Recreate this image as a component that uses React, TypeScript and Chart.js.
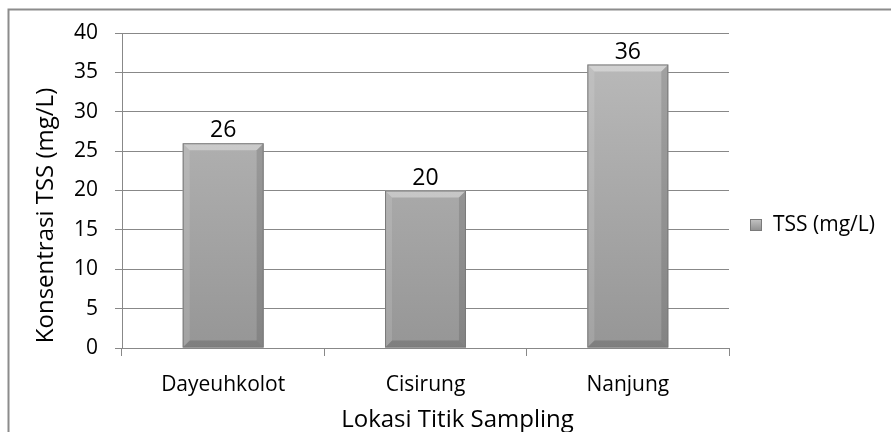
import React, { useEffect, useRef } from "react";
import { Chart, registerables } from "chart.js";

Chart.register(...registerables);

const categories = ["Dayeuhkolot", "Cisirung", "Nanjung"];
const tssValues = [26, 20, 36];
const seriesLabel = "TSS (mg/L)";
const yTitle = "Konsentrasi TSS (mg/L)";
const xTitle = "Lokasi Titik Sampling";
const yMin = 0;
const yMax = 40;
const yStep = 5;

const FONT = "'Open Sans', sans-serif";

const framePlugin = {
  id: "frame",
  beforeDraw(chart: any) {
    const ctx = chart.ctx;
    ctx.save();
    ctx.fillStyle = "#ffffff";
    ctx.fillRect(0, 0, chart.width, chart.height);
    ctx.strokeStyle = "#8c8c8c";
    ctx.lineWidth = 2;
    ctx.beginPath();
    ctx.moveTo(8.5, chart.height);
    ctx.lineTo(8.5, 9.5);
    ctx.lineTo(chart.width, 9.5);
    ctx.stroke();
    ctx.restore();
  },
};

const barDecorPlugin = {
  id: "barDecor",
  afterDatasetsDraw(chart: any) {
    const ctx = chart.ctx;
    const meta = chart.getDatasetMeta(0);
    const data = chart.data.datasets[0].data as number[];
    ctx.save();
    meta.data.forEach((bar: any, i: number) => {
      const w = bar.width;
      const left = bar.x - w / 2;
      const right = bar.x + w / 2;
      const top = bar.y;
      const bottom = bar.base;
      const b = 7;
      ctx.fillStyle = "rgba(255,255,255,0.35)";
      ctx.beginPath();
      ctx.moveTo(left, top);
      ctx.lineTo(right, top);
      ctx.lineTo(right - b, top + b);
      ctx.lineTo(left + b, top + b);
      ctx.closePath();
      ctx.fill();
      ctx.fillStyle = "rgba(255,255,255,0.12)";
      ctx.beginPath();
      ctx.moveTo(left, top);
      ctx.lineTo(left + b, top + b);
      ctx.lineTo(left + b, bottom - b);
      ctx.lineTo(left, bottom);
      ctx.closePath();
      ctx.fill();
      ctx.fillStyle = "rgba(0,0,0,0.12)";
      ctx.beginPath();
      ctx.moveTo(right, top);
      ctx.lineTo(right - b, top + b);
      ctx.lineTo(right - b, bottom - b);
      ctx.lineTo(right, bottom);
      ctx.closePath();
      ctx.fill();
      ctx.fillStyle = "rgba(0,0,0,0.15)";
      ctx.beginPath();
      ctx.moveTo(left, bottom);
      ctx.lineTo(right, bottom);
      ctx.lineTo(right - b, bottom - b);
      ctx.lineTo(left + b, bottom - b);
      ctx.closePath();
      ctx.fill();
      ctx.strokeStyle = "#7a7a7a";
      ctx.lineWidth = 1;
      ctx.strokeRect(left + 0.5, top + 0.5, w - 1, bottom - top - 1);
      ctx.fillStyle = "#000000";
      ctx.font = `23px ${FONT}`;
      ctx.textAlign = "center";
      ctx.textBaseline = "alphabetic";
      ctx.fillText(String(data[i]), bar.x, top - 6);
    });
    ctx.restore();
  },
  afterDraw(chart: any) {
    const ctx = chart.ctx;
    const area = chart.chartArea;
    ctx.save();
    // legend
    const cy = 225;
    const sx = area.right + 21;
    const g = ctx.createLinearGradient(0, cy - 6, 0, cy + 6);
    g.addColorStop(0, "#c4c4c4");
    g.addColorStop(1, "#8e8e8e");
    ctx.fillStyle = g;
    ctx.fillRect(sx, cy - 6, 12, 12);
    ctx.strokeStyle = "#7a7a7a";
    ctx.lineWidth = 1;
    ctx.strokeRect(sx + 0.5, cy - 5.5, 11, 11);
    ctx.fillStyle = "#000000";
    ctx.font = `21px ${FONT}`;
    ctx.textAlign = "left";
    ctx.textBaseline = "middle";
    ctx.fillText(seriesLabel, sx + 23, cy);
    // x title
    ctx.font = `24px ${FONT}`;
    ctx.textAlign = "center";
    ctx.textBaseline = "alphabetic";
    ctx.fillText(xTitle, (area.left + area.right) / 2 + 32, 427);
    // y title
    ctx.translate(46, (area.top + area.bottom) / 2 + 25);
    ctx.rotate(-Math.PI / 2);
    ctx.textAlign = "center";
    ctx.textBaseline = "middle";
    ctx.fillText(yTitle, 0, 0);
    ctx.restore();
  },
};

export default function App() {
  const ref = useRef<HTMLCanvasElement>(null);
  useEffect(() => {
    document.body.style.margin = "0";
    const canvas = ref.current!;
    const chart = new Chart(canvas, {
      type: "bar",
      data: {
        labels: categories,
        datasets: [
          {
            label: seriesLabel,
            data: tssValues,
            backgroundColor: (c: any) => {
              const area = c.chart.chartArea;
              if (!area) return "#a8a8a8";
              const g = c.chart.ctx.createLinearGradient(0, area.top, 0, area.bottom);
              g.addColorStop(0, "#bcbcbc");
              g.addColorStop(1, "#969696");
              return g;
            },
            borderWidth: 0,
            categoryPercentage: 0.8,
            barPercentage: 0.5,
          },
        ],
      },
      options: {
        animation: false,
        responsive: false,
        layout: { padding: { left: 0, top: 33, right: 891 - 729, bottom: 2 } },
        plugins: {
          legend: { display: false },
          tooltip: { enabled: false },
        },
        scales: {
          x: {
            grid: {
              display: true,
              drawOnChartArea: false,
              drawTicks: true,
              tickLength: 8,
              color: "#888888",
              offset: true,
            },
            border: { color: "#888888", width: 1 },
            ticks: { color: "#000000", font: { family: FONT, size: 21 }, padding: 16 },
            title: { display: false },
            afterFit: (s: any) => {
              s.height = 82;
            },
          },
          y: {
            min: yMin,
            max: yMax,
            ticks: {
              stepSize: yStep,
              color: "#000000",
              font: { family: FONT, size: 21 },
              padding: 17,
            },
            grid: { color: "#888888", tickLength: 7, lineWidth: 1 },
            border: { color: "#888888", width: 1 },
            title: { display: false },
            afterFit: (s: any) => {
              s.width = 122;
            },
          },
        },
      },
      plugins: [framePlugin, barDecorPlugin],
    });
    return () => chart.destroy();
  }, []);
  return <canvas ref={ref} width={891} height={432} style={{ display: "block" }} />;
}
